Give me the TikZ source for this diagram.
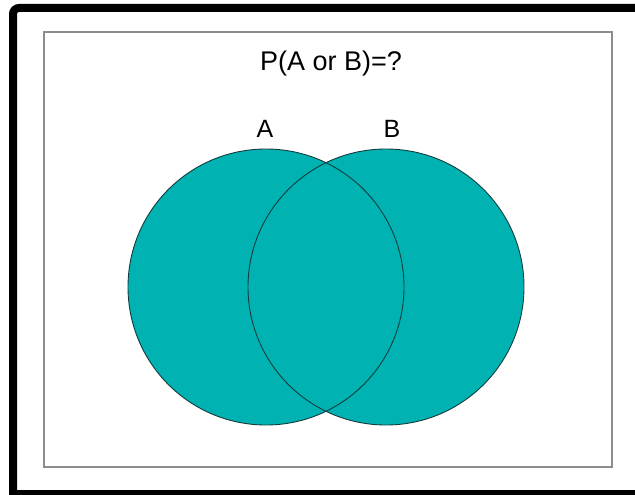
\documentclass[tikz,border=0pt]{standalone}
\usepackage{fontspec}
\setmainfont{Liberation Sans}
\definecolor{vteal}{RGB}{0,178,178}
\definecolor{vedge}{RGB}{20,60,60}
\definecolor{framegray}{RGB}{140,140,140}
\begin{document}
\begin{tikzpicture}[x=1pt,y=-1pt,
  setfill/.style={circle, inner sep=0pt, minimum size=276pt, fill=vteal, draw=none},
  setedge/.style={circle, inner sep=0pt, minimum size=276pt, draw=vedge, line width=0.9pt},
  lbl/.style={font=\fontsize{25}{27}\selectfont, anchor=base, inner sep=0pt}]
\useasboundingbox (0,0) rectangle (635,495);
% outer black frame (cut at right and bottom)
\draw[line width=8pt, line join=miter] (650,494) -- (13,494) -- (13,14) arc[start angle=180, end angle=270, radius=6] -- (650,8);
% inner gray frame
\draw[framegray, line width=2pt] (44,32) rectangle (612,467);
% title
\node[font=\fontsize{27}{30}\selectfont, anchor=base, inner sep=0pt] (title) at (331,71) {P(A or B)=?};
% circles
\node[setfill] (cA) at (266,287) {};
\node[setfill] (cB) at (386,287) {};
\node[setedge] (eA) at (266,287) {};
\node[setedge] (eB) at (386,287) {};
% labels
\node[lbl] (la) at (265,137) {A};
\node[lbl] (lb) at (392,137) {B};
\end{tikzpicture}
\end{document}
